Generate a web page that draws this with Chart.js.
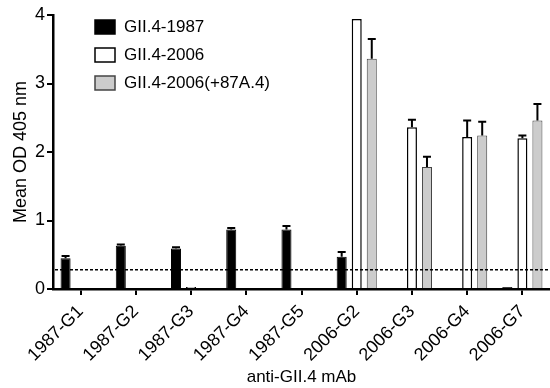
<!DOCTYPE html>
<html>
<head>
<meta charset="utf-8">
<script src="https://cdn.jsdelivr.net/npm/chart.js@4.4.1/dist/chart.umd.min.js"></script>
<style>
  html, body { margin: 0; padding: 0; background: #fff; }
  #wrap { width: 550px; height: 388px; }
</style>
</head>
<body>
<div id="wrap"><canvas id="odChart"></canvas></div>
<script>
// data
const mabs = ["1987-G1", "1987-G2", "1987-G3", "1987-G4", "1987-G5", "2006-G2", "2006-G3", "2006-G4", "2006-G7"];
const gii4_1987 = [0.45, 0.63, 0.59, 0.87, 0.87, 0.47, 0, 0, 0.03];
const gii4_1987Err = [0.03, 0.02, 0.02, 0.02, 0.05, 0.07, 0, 0, 0];
const gii4_2006 = [0, 0, 0.03, 0, 0, 3.94, 2.36, 2.22, 2.20];
const gii4_2006Err = [0, 0, 0, 0, 0, 0, 0.11, 0.24, 0.04];
const gii4_2006mut = [0, 0, 0, 0, 0, 3.36, 1.78, 2.24, 2.46];
const gii4_2006mutErr = [0, 0, 0, 0, 0, 0.29, 0.15, 0.20, 0.24];
const cutoff = 0.28;
const yTicks = [0, 1, 2, 3, 4];

const font = "'Liberation Sans', Arial, Helvetica, sans-serif";
Chart.defaults.font.family = font;
Chart.defaults.color = "#000";

// error bars (upward only) + dashed cutoff line
const extras = {
  id: "extras",
  afterDatasetsDraw(chart) {
    const c = chart.ctx, y = chart.scales.y, area = chart.chartArea;
    c.save();
    chart.data.datasets.forEach((ds, i) => {
      const meta = chart.getDatasetMeta(i);
      meta.data.forEach((bar, j) => {
        const e = ds.err[j];
        if (!e) return;
        const top = y.getPixelForValue(ds.data[j] + e);
        c.strokeStyle = "#000";
        c.lineWidth = 2;
        c.beginPath();
        c.moveTo(bar.x, bar.y);
        c.lineTo(bar.x, top);
        c.moveTo(bar.x - 4, top);
        c.lineTo(bar.x + 4, top);
        c.stroke();
      });
    });
    const yc = y.getPixelForValue(cutoff);
    c.setLineDash([3, 2]);
    c.lineWidth = 1.5;
    c.beginPath();
    c.moveTo(area.left + 2, yc);
    c.lineTo(area.right, yc);
    c.stroke();
    c.restore();
  },
  afterDraw(chart) {
    // legend inside plot, top-left
    const c = chart.ctx, area = chart.chartArea;
    c.save();
    c.font = "17px " + font;
    c.textBaseline = "middle";
    chart.data.datasets.forEach((ds, i) => {
      const x = area.left + 42, yy = area.top + 12 + i * 28;
      c.fillStyle = ds.backgroundColor;
      c.fillRect(x, yy - 7, 20, 14);
      c.strokeStyle = ds.borderColor;
      c.lineWidth = 1.5;
      c.strokeRect(x, yy - 7, 20, 14);
      c.fillStyle = "#000";
      c.fillText(ds.label, x + 29, yy);
    });
    c.restore();
  }
};

new Chart(document.getElementById("odChart"), {
  type: "bar",
  data: {
    labels: mabs,
    datasets: [
      { label: "GII.4-1987", data: gii4_1987, err: gii4_1987Err, backgroundColor: "#000", borderColor: "#000", borderWidth: 1 },
      { label: "GII.4-2006", data: gii4_2006, err: gii4_2006Err, backgroundColor: "#fff", borderColor: "#000", borderWidth: 1.5 },
      { label: "GII.4-2006(+87A.4)", data: gii4_2006mut, err: gii4_2006mutErr, backgroundColor: "#cccccc", borderColor: "#444", borderWidth: 1 }
    ]
  },
  options: {
    responsive: true,
    maintainAspectRatio: false,
    animation: false,
    categoryPercentage: 0.817,
    barPercentage: 0.667,
    layout: { padding: { top: 15, right: 0, left: 0, bottom: 0 } },
    plugins: { legend: { display: false }, tooltip: { enabled: false } },
    scales: {
      x: {
        grid: { display: true, offset: false, drawOnChartArea: false, drawTicks: true, tickLength: 6, color: "#000", lineWidth: 2 },
        border: { color: "#000", width: 2.5 },
        ticks: { minRotation: 45, maxRotation: 45, padding: 6, font: { size: 18 } },
        title: { display: true, text: "anti-GII.4 mAb", font: { size: 17 }, padding: { top: 0, bottom: 0 } },
        afterFit(s) { s.height = 99; }
      },
      y: {
        min: 0,
        max: 4,
        grid: { display: true, drawOnChartArea: false, drawTicks: true, tickLength: 6, color: "#000", lineWidth: 2 },
        border: { color: "#000", width: 2.5 },
        afterBuildTicks(s) { s.ticks = yTicks.map(v => ({ value: v })); },
        ticks: { padding: 2, font: { size: 18 } },
        title: { display: true, text: "Mean OD 405 nm", font: { size: 18 }, padding: { top: 10, bottom: 0 } },
        afterFit(s) { s.width = 53; }
      }
    }
  },
  plugins: [extras]
});
</script>
</body>
</html>
